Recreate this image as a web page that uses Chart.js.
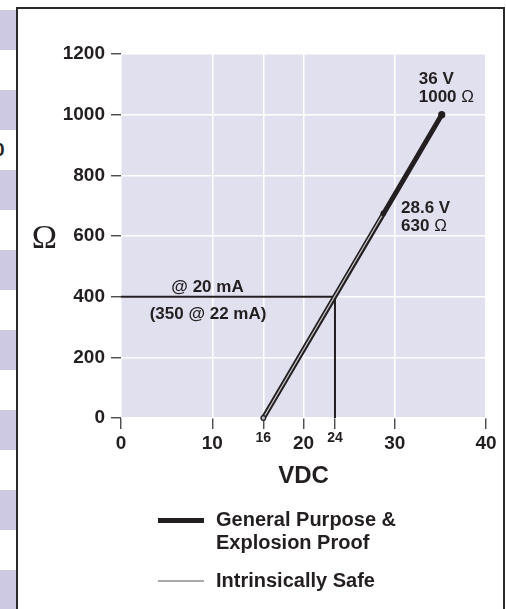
<!DOCTYPE html>
<html><head><meta charset="utf-8">
<script src="https://cdn.jsdelivr.net/npm/chart.js@4/dist/chart.umd.min.js"></script>
<style>
html,body{margin:0;padding:0;background:#fff;}
body{width:506px;height:609px;position:relative;overflow:hidden;font-family:"Liberation Sans",Arial,sans-serif;color:#231f20;}
.stripe{position:absolute;left:0;width:16px;height:40px;background:#cdc9e3;}
#frame{position:absolute;left:16px;top:7px;width:489px;height:640px;border:2px solid #2b2b2b;box-sizing:border-box;}
#c{position:absolute;left:0;top:0;}
.lg{position:absolute;font-weight:bold;font-size:20px;line-height:23px;white-space:nowrap;}
.sw{position:absolute;}
#frag{position:absolute;left:-6px;top:139px;font-weight:bold;font-size:19px;line-height:22px;}
</style>
</head><body>
<div id="stripes"></div>
<div id="frag">0</div>
<div id="frame"></div>
<canvas id="c" width="506" height="609"></canvas>
<div class="sw" style="left:158px;top:518px;width:46px;height:5px;background:#231f20;"></div>
<div class="lg" id="lg1" style="left:216px;top:508px;"></div>
<div class="sw" style="left:158px;top:580px;width:46px;height:1.5px;background:#a9a9a9;"></div>
<div class="lg" id="lg2" style="left:216px;top:569px;"></div>
<script>
// ---- data (positions) ----
const loadV = [0, 23.45, 23.45];
const loadR = [400, 400, 0];
const gpV = [15.6, 35.15];
const gpR = [0, 1000];
const isV = [15.6, 28.75];
const isR = [0, 675];
const xTickValues = [0, 10, 15.6, 20, 23.45, 30, 40];
const xTickLabels = ['0', '10', '16', '20', '24', '30', '40'];
const minorXTicks = [15.6, 23.45];
const hiddenXGrid = [23.45];
const yMin = 0, yMax = 1200, yStep = 200;
const noteLoad = ['@ 20 mA', '(350 @ 22 mA)'];
const noteGP = ['36 V', '1000 Ω'];
const noteIS = ['28.6 V', '630 Ω'];
const xTitle = 'VDC';
const yTitle = 'Ω';
const legendGP = ['General Purpose &', 'Explosion Proof'];
const legendIS = ['Intrinsically Safe'];

// ---- page decorations ----
const st = document.getElementById('stripes');
for (let k = 0; k < 8; k++) {
  const d = document.createElement('div');
  d.className = 'stripe';
  d.style.top = (10 + 80 * k) + 'px';
  st.appendChild(d);
}
document.getElementById('lg1').innerHTML = legendGP.join('<br>');
document.getElementById('lg2').textContent = legendIS.join(' ');

const pts = (xs, ys) => xs.map((x, i) => ({x, y: ys[i]}));
const FAM = "'Liberation Sans', Arial, sans-serif";
const TXT = '#231f20';
Chart.defaults.font.family = FAM;
Chart.defaults.color = TXT;

function drawLine(ctx, text, x, y, size, align) {
  const idx = text.indexOf('Ω');
  ctx.textBaseline = 'alphabetic';
  if (idx < 0) {
    ctx.font = 'bold ' + size + 'px ' + FAM;
    ctx.textAlign = align;
    ctx.fillText(text, x, y);
    return;
  }
  const a = text.slice(0, idx);
  ctx.font = 'bold ' + size + 'px ' + FAM;
  const wa = ctx.measureText(a).width;
  ctx.font = size + 'px ' + FAM;
  const wo = ctx.measureText('Ω').width;
  let sx = x;
  if (align === 'center') sx = x - (wa + wo) / 2;
  ctx.textAlign = 'left';
  ctx.font = 'bold ' + size + 'px ' + FAM;
  ctx.fillText(a, sx, y);
  ctx.font = size + 'px ' + FAM;
  ctx.fillText('Ω', sx + wa, y);
}

const decor = {
  id: 'decor',
  beforeDraw(chart) {
    const {ctx, chartArea: a} = chart;
    ctx.save();
    ctx.fillStyle = '#e1e0ef';
    ctx.fillRect(a.left, a.top, a.right - a.left, a.bottom - a.top);
    ctx.restore();
  },
  afterDraw(chart) {
    const {ctx, chartArea: a, scales: {x, y}} = chart;
    ctx.save();
    ctx.fillStyle = TXT;
    let px = x.getPixelForValue(loadV[0]), py = y.getPixelForValue(loadR[0]);
    drawLine(ctx, noteLoad[0], px + 86.5, py - 5, 17, 'center');
    drawLine(ctx, noteLoad[1], px + 87, py + 22.5, 17, 'center');
    px = x.getPixelForValue(gpV[1]); py = y.getPixelForValue(gpR[1]);
    drawLine(ctx, noteGP[0], px - 23, py - 30.3, 17, 'left');
    drawLine(ctx, noteGP[1], px - 23, py - 12.8, 17, 'left');
    px = x.getPixelForValue(isV[1]); py = y.getPixelForValue(isR[1]);
    drawLine(ctx, noteIS[0], px + 17.7, py, 17, 'left');
    drawLine(ctx, noteIS[1], px + 17.7, py + 18.2, 17, 'left');
    ctx.textAlign = 'center';
    ctx.textBaseline = 'alphabetic';
    ctx.font = 'bold 24px ' + FAM;
    ctx.fillText(xTitle, (a.left + a.right) / 2, a.bottom + 65);
    ctx.font = "34px 'Liberation Serif', 'Times New Roman', serif";
    ctx.fillText(yTitle, a.left - 76.5, (a.top + a.bottom) / 2 + 11.5);
    ctx.restore();
  }
};

new Chart(document.getElementById('c'), {
  type: 'scatter',
  data: {
    datasets: [
      {
        label: legendIS.join(' '),
        data: pts(isV, isR),
        showLine: true,
        borderColor: '#c4c4c8',
        borderWidth: 1.3,
        pointRadius: [2.3, 2.2],
        pointBackgroundColor: ['#bdbdc2', '#231f20'],
        pointBorderColor: '#231f20',
        pointBorderWidth: 1.3,
        clip: false
      },
      {
        label: legendGP.join(' '),
        data: pts(gpV, gpR),
        showLine: true,
        borderColor: '#231f20',
        borderWidth: 5,
        borderCapStyle: 'round',
        pointRadius: [0, 3.6],
        pointBackgroundColor: '#231f20',
        pointBorderWidth: 0,
        clip: false
      },
      {
        label: 'load',
        data: pts(loadV, loadR),
        showLine: true,
        borderColor: '#231f20',
        borderWidth: 2,
        pointRadius: 0,
        clip: false
      }
    ]
  },
  options: {
    responsive: false,
    animation: false,
    devicePixelRatio: 1,
    layout: {padding: {top: 54, right: 20, left: 0, bottom: 0}},
    plugins: {legend: {display: false}, tooltip: {enabled: false}},
    scales: {
      x: {
        type: 'linear',
        min: 0, max: 40,
        afterBuildTicks: s => { s.ticks = xTickValues.map(v => ({value: v})); },
        afterFit: s => { s.height = 191; },
        border: {display: false},
        grid: {
          color: c => (c.tick && hiddenXGrid.includes(c.tick.value)) ? 'rgba(0,0,0,0)' : '#ffffff',
          lineWidth: 1.5, tickColor: '#3a3a3a', tickWidth: 1.3, tickLength: 11
        },
        ticks: {
          autoSkip: false, maxRotation: 0, minRotation: 0, padding: 3, color: TXT,
          font: c => minorXTicks.includes(c.tick && c.tick.value)
            ? {size: 14, weight: 'bold', lineHeight: 0.9}
            : {size: 19, weight: 'bold', lineHeight: 1.2},
          callback: (v, i) => xTickLabels[xTickValues.indexOf(v)] ?? String(v)
        }
      },
      y: {
        type: 'linear',
        min: yMin, max: yMax,
        afterFit: s => { s.width = 121; },
        border: {display: false},
        grid: {color: '#ffffff', lineWidth: 1.5, tickColor: '#3a3a3a', tickWidth: 1.3, tickLength: 10},
        ticks: {stepSize: yStep, padding: 6, color: TXT, font: {size: 19, weight: 'bold'}, callback: v => String(v)}
      }
    }
  },
  plugins: [decor]
});
</script>
</body></html>
